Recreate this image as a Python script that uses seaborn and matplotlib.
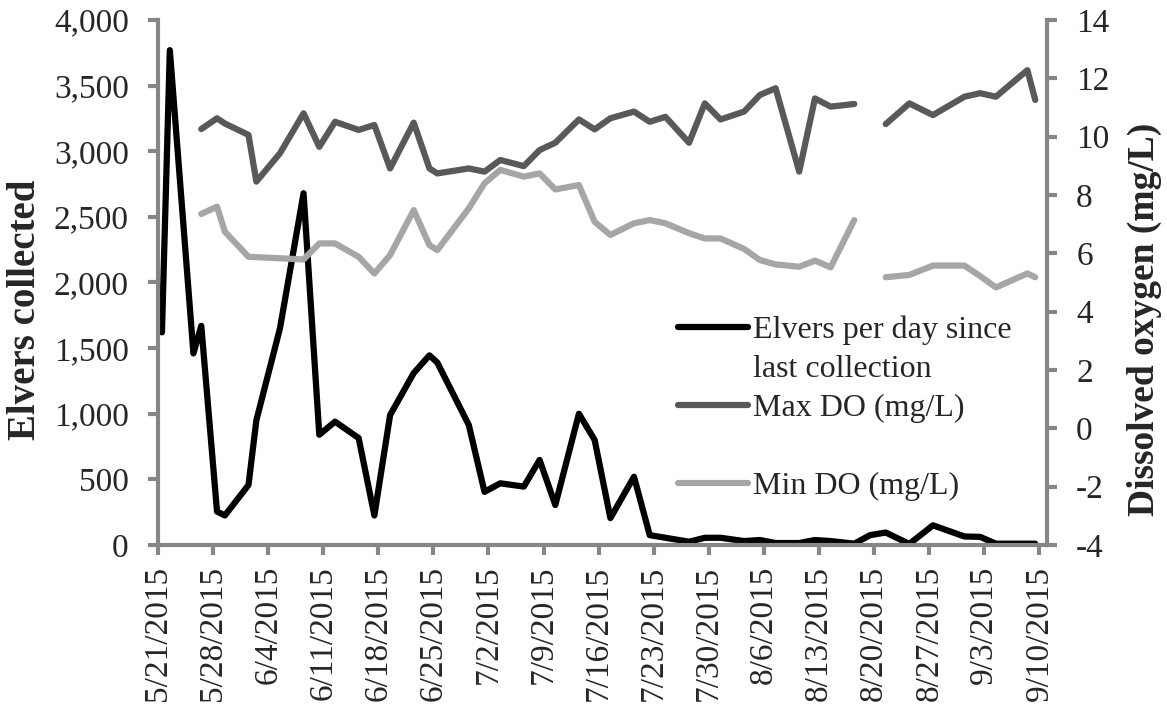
import pandas as pd
import seaborn as sns
import matplotlib
matplotlib.use('Agg')
import matplotlib.pyplot as plt
import matplotlib.dates as mdates
from matplotlib.lines import Line2D
from matplotlib.ticker import FuncFormatter, MultipleLocator

# collection dates (2015) and values
days = ["5/21", "5/22", "5/25", "5/26", "5/28", "5/29", "6/1", "6/2", "6/5", "6/8",
        "6/10", "6/12", "6/15", "6/17", "6/19", "6/22", "6/24", "6/25", "6/29", "7/1",
        "7/3", "7/6", "7/8", "7/10", "7/13", "7/15", "7/17", "7/20", "7/22", "7/24",
        "7/27", "7/29", "7/31", "8/3", "8/5", "8/7", "8/10", "8/12", "8/14", "8/17",
        "8/19", "8/21", "8/24", "8/27", "8/31", "9/2", "9/4", "9/8", "9/9"]

elvers = [1620, 3770, 1460, 1670, 255, 225, 457, 950, 1650, 2680,
          840, 940, 815, 225, 990, 1310, 1445, 1390, 915, 405,
          470, 445, 648, 305, 1000, 800, 205, 520, 75, 55,
          25, 55, 55, 30, 38, 15, 15, 38, 30, 10,
          75, 95, 8, 150, 65, 62, 10, 10, 10]

nan = float('nan')
max_do = [nan, nan, nan, 10.26, 10.63, 10.45, 10.06, 8.46, 9.43, 10.80,
          9.65, 10.51, 10.23, 10.40, 8.91, 10.48, 8.91, 8.74, 8.91, 8.80,
          9.20, 8.99, 9.54, 9.79, 10.59, 10.25, 10.63, 10.86, 10.51, 10.68,
          9.79, 11.14, 10.59, 10.86, 11.43, 11.66, 8.80, 11.31, 11.03, 11.12,
          nan, 10.43, 11.14, 10.74, 11.37, 11.49, 11.37, 12.28, 11.26]

min_do = [nan, nan, nan, 7.35, 7.60, 6.74, 5.88, 5.87, 5.83, 5.79,
          6.34, 6.34, 5.88, 5.31, 5.94, 7.48, 6.28, 6.11, 7.54, 8.40,
          8.86, 8.63, 8.74, 8.19, 8.34, 7.08, 6.63, 7.03, 7.14, 7.03,
          6.69, 6.51, 6.51, 6.15, 5.77, 5.62, 5.54, 5.75, 5.52, 7.14,
          nan, 5.18, 5.26, 5.58, 5.58, 5.22, 4.83, 5.31, 5.18]

df = pd.DataFrame({'day': days, 'elvers': elvers, 'max_do': max_do, 'min_do': min_do})
# collections plotted at midday
df['date'] = pd.to_datetime('2015/' + df['day'], format='%Y/%m/%d') + pd.Timedelta(hours=12)
# DO logger gap around 8/19 splits the DO lines in two
df['segment'] = (df['date'] > pd.Timestamp('2015-08-19')).astype(int)

sns.set_style('white')
plt.rcParams['font.family'] = ['Liberation Serif', 'DejaVu Serif']
plt.rcParams['axes.unicode_minus'] = False

spine_col = '#868686'
lw = 4.5

fig = plt.figure(figsize=(11.67, 7.19), dpi=100)
ax = fig.add_axes([0.1354, 0.2420, 0.7618, 0.7302])

sns.lineplot(data=df, x='date', y='elvers', color='black', lw=lw, ax=ax, estimator=None)

ax2 = ax.twinx()
sns.lineplot(data=df, x='date', y='max_do', units='segment', estimator=None,
             color='#595959', lw=lw, ax=ax2)
sns.lineplot(data=df, x='date', y='min_do', units='segment', estimator=None,
             color='#A6A6A6', lw=lw, ax=ax2)

ax.set_xlim(pd.Timestamp('2015-05-21'), pd.Timestamp('2015-09-11'))
ax.set_ylim(0, 4000)
ax2.set_ylim(-4, 14)

ax.set_xticks(pd.date_range('2015-05-21', '2015-09-10', freq='7D'))
ax.xaxis.set_major_formatter(FuncFormatter(
    lambda v, p: f"{mdates.num2date(v).month}/{mdates.num2date(v).day}/{mdates.num2date(v).year}"))
ax.yaxis.set_major_locator(MultipleLocator(500))
ax.yaxis.set_major_formatter(FuncFormatter(lambda v, p: f"{v:,.0f}"))
ax2.yaxis.set_major_locator(MultipleLocator(2))

for s in ['top', 'right']:
    ax.spines[s].set_visible(False)
for s in ['top', 'left', 'bottom']:
    ax2.spines[s].set_visible(False)
for a, names in [(ax, ['left', 'bottom']), (ax2, ['right'])]:
    for s in names:
        a.spines[s].set_color(spine_col)
        a.spines[s].set_linewidth(3)

ax.tick_params(axis='y', direction='out', length=7, width=3, color=spine_col,
               labelsize=24, pad=14, left=True)
ax.tick_params(axis='x', direction='out', length=7, width=3, color=spine_col,
               labelsize=24, pad=8, bottom=True, labelrotation=90)
ax2.tick_params(axis='y', direction='out', length=7, width=3, color=spine_col,
                labelsize=24, pad=14, right=True)

ax.set_xlabel('')
ax.set_ylabel('Elvers collected', fontsize=28, fontweight='bold')
ax.yaxis.set_label_coords(-0.128, 0.448)
ax2.set_ylabel('Dissolved oxygen (mg/L)', fontsize=27, fontweight='bold')
ax2.yaxis.set_label_coords(1.090, 0.43)

handles = [Line2D([], [], color='black', lw=lw),
           Line2D([], [], color='none'),
           Line2D([], [], color='#595959', lw=lw),
           Line2D([], [], color='none'),
           Line2D([], [], color='#A6A6A6', lw=lw)]
labels = ['Elvers per day since', 'last collection', 'Max DO (mg/L)', ' ', 'Min DO (mg/L)']
ax2.legend(handles, labels, loc='upper left', bbox_to_anchor=(0.585, 0.437),
           frameon=False, fontsize=23, handlelength=2.2, handletextpad=0.15,
           labelspacing=0.3, borderpad=0, borderaxespad=0)

fig.savefig('out.png', dpi=100)
